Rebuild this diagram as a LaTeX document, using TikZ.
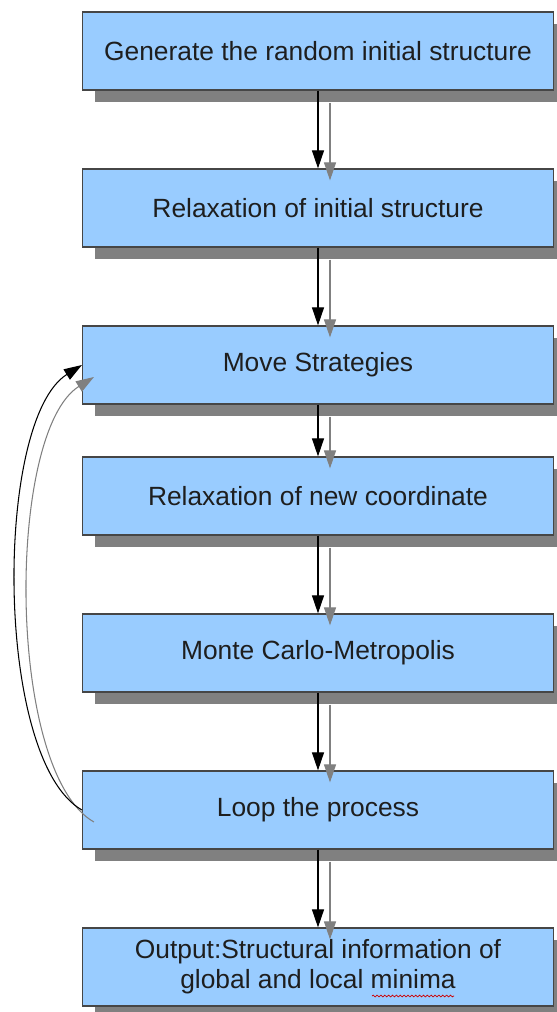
\documentclass[tikz,border=0pt]{standalone}
\usepackage{fontspec}
\setmainfont{Liberation Sans}
\usetikzlibrary{arrows.meta,shadows,decorations.pathmorphing}
\definecolor{boxblue}{RGB}{153,204,255}
\definecolor{boxline}{RGB}{70,70,70}
\definecolor{shadowgray}{RGB}{128,128,128}
\definecolor{textdark}{RGB}{30,30,30}
\tikzset{%
  flowbox/.style     = {shape=rectangle, draw=boxline, line width=0.7pt,%
                        fill=boxblue, align=center, text=textdark,%
                        minimum width=9.42cm, minimum height=1.56cm, inner sep=0pt,%
                        font=\fontsize{15}{17}\selectfont,%
                        drop shadow={shadow xshift=0.24cm, shadow yshift=-0.24cm,%
                                     fill=shadowgray, opacity=1}},%
  flowarrow/.style   = {color=black, line width=0.6pt,%
                        -{Triangle[length=0.36cm,width=0.24cm]}},%
  shadowarrow/.style = {flowarrow, color=shadowgray}%
}

\begin{document}
\begin{tikzpicture}[x=0.02cm,y=-0.02cm]
	\useasboundingbox (0,0) rectangle (557,1012);
	% boxes
	\node [flowbox] (gen)      at (318,51)  {Generate the random initial structure};
	\node [flowbox] (relax)    at (318,208) {Relaxation of initial structure};
	\node [flowbox] (move)     at (318,365) {Move Strategies};
	\node [flowbox] (relaxnew) at (318,496) {Relaxation of new coordinate};
	\node [flowbox] (mc)       at (318,653) {Monte Carlo-Metropolis};
	\node [flowbox] (loop)     at (318,810) {Loop the process};
	\node [flowbox] (out)      at (318,967) {Output:Structural information of\\global and local minima};
	% wavy underline
	\draw [red!80!black, line width=0.4pt, decorate,
		decoration={snake, amplitude=0.5pt, segment length=2.2pt}]
		(372,996) -- (454,996);
	% shadow arrows
	\foreach \a/\b in {gen/relax, relax/move, move/relaxnew, relaxnew/mc, mc/loop, loop/out}
		\draw [shadowarrow] ([shift={(12,12)}]\a.south) -- ([shift={(12,12)}]\b.north);
	\draw [shadowarrow] ([shift={(12,12)}]loop.west)
		.. controls ([shift={(12,12)}]-6,760) and ([shift={(12,12)}]-6,420) .. ([shift={(12,12)}]move.west);
	% arrows
	\foreach \a/\b in {gen/relax, relax/move, move/relaxnew, relaxnew/mc, mc/loop, loop/out}
		\draw [flowarrow] (\a.south) -- (\b.north);
	\draw [flowarrow] (loop.west) .. controls (-6,760) and (-6,420) .. (move.west);
\end{tikzpicture}
\end{document}
